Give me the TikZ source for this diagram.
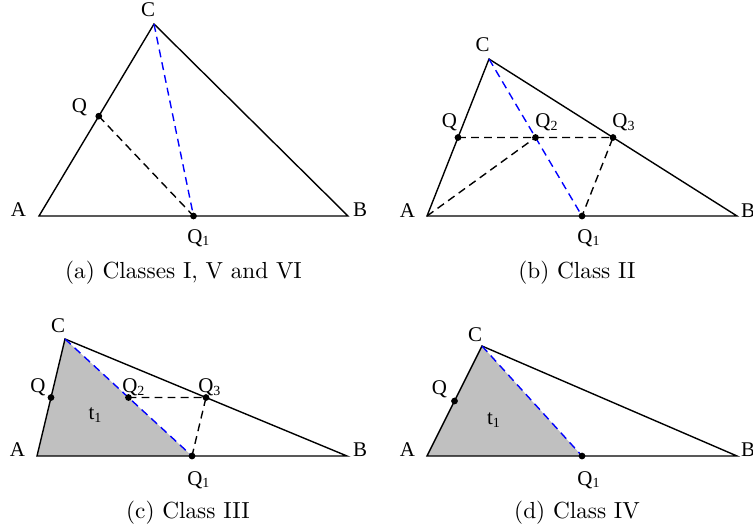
\documentclass[tikz,border=0pt]{standalone}
\usepackage{fontspec}
\newfontfamily\lblfont{Liberation Serif}
\usepackage{xcolor}
\usepackage{tikz}
\usetikzlibrary{calc}
\definecolor{tgrey}{HTML}{C0C0C0}
\definecolor{tblue}{HTML}{0000FF}

\begin{document}
\begin{tikzpicture}[x=0.43pt, y=0.43pt, line width=0.6pt,
  lbl/.style={font=\lblfont\fontsize{9}{10}\selectfont, inner sep=0pt},
  capt/.style={anchor=base, inner sep=0pt},
  blk/.style={dash pattern=on 3.4pt off 2.2pt},
  blu/.style={blk, draw=tblue}]

  \useasboundingbox (0,0) rectangle (753,529);

  % -- (a): one cut from Q, the median from C ------------------------------
  \coordinate (aA) at (39,313);
  \coordinate (aB) at (348,313);
  \coordinate (aC) at (154,505);
  \coordinate (aQ) at ($(aA)!0.52!(aC)$);
  \coordinate (aQ1) at ($(aA)!0.5!(aB)$);
  \draw (aA) -- (aB) -- (aC) -- cycle;
  \draw[blk] (aQ) -- (aQ1);
  \draw[blu] (aC) -- (aQ1);
  \foreach \p in {aQ,aQ1}{\fill (\p) circle (1.45pt);}
  \node[lbl] (laA)  at (18.5,319)  {A};
  \node[lbl] (laB)  at (360,319)   {B};
  \node[lbl] (laC)  at (148,519)   {C};
  \node[lbl] (laQ)  at (79.5,421.5) {Q};
  \node[lbl] (laQ1) at (199,291)   {Q\textsubscript{1}};
  \node[capt] (capa) at (183.5,251) {(a) Classes I, V and VI};

  % -- (b): the mid-points Q, Q2, Q3 joined up ------------------------------
  \coordinate (bA) at (427,313);
  \coordinate (bB) at (737,313);
  \coordinate (bC) at (489,470);
  \coordinate (bQ) at ($(bA)!0.5!(bC)$);
  \coordinate (bQ3) at ($(bB)!0.5!(bC)$);
  \coordinate (bQ1) at ($(bA)!0.5!(bB)$);
  \coordinate (bQ2) at ($(bC)!0.5!(bQ1)$);
  \draw (bA) -- (bB) -- (bC) -- cycle;
  \draw[blk] (bQ) -- (bQ2) -- (bQ3) -- (bQ1);
  \draw[blk] (bA) -- (bQ2);
  \draw[blu] (bC) -- (bQ1);
  \foreach \p in {bQ,bQ1,bQ2,bQ3}{\fill (\p) circle (1.45pt);}
  \node[lbl] (lbA)  at (407.5,318) {A};
  \node[lbl] (lbB)  at (748,318)   {B};
  \node[lbl] (lbC)  at (482.5,484.5) {C};
  \node[lbl] (lbQ)  at (449.5,406.5) {Q};
  \node[lbl] (lbQ2) at (547,406.5) {Q\textsubscript{2}};
  \node[lbl] (lbQ3) at (624,406.5) {Q\textsubscript{3}};
  \node[lbl] (lbQ1) at (589,291)   {Q\textsubscript{1}};
  \node[capt] (capb) at (577,251) {(b) Class II};

  % -- (c): t1 shaded, Q2 and Q3 still in play ------------------------------
  \coordinate (cA) at (37,73);
  \coordinate (cB) at (347,73);
  \coordinate (cC) at (65,190);
  \coordinate (cQ) at ($(cA)!0.5!(cC)$);
  \coordinate (cQ3) at ($(cB)!0.5!(cC)$);
  \coordinate (cQ1) at ($(cA)!0.5!(cB)$);
  \coordinate (cQ2) at ($(cC)!0.5!(cQ1)$);
  \fill[tgrey] (cA) -- (cQ1) -- (cC) -- cycle;
  \draw (cA) -- (cB) -- (cC) -- cycle;
  \draw[blk] (cQ2) -- (cQ3) -- (cQ1);
  \draw[blu] (cC) -- (cQ1);
  \foreach \p in {cQ,cQ1,cQ2,cQ3}{\fill (\p) circle (1.45pt);}
  \node[lbl] (lcA)  at (17.5,79)   {A};
  \node[lbl] (lcB)  at (360,79)    {B};
  \node[lbl] (lcC)  at (58,203)    {C};
  \node[lbl] (lcQ)  at (38,141.5)  {Q};
  \node[lbl] (lcQ2) at (134,141.5) {Q\textsubscript{2}};
  \node[lbl] (lcQ3) at (210,141.5) {Q\textsubscript{3}};
  \node[lbl] (lcQ1) at (199,49)    {Q\textsubscript{1}};
  \node[lbl] (lct)  at (95.5,114)  {t\textsubscript{1}};
  \node[capt] (capc) at (188,11) {(c) Class III};

  % -- (d): t1 shaded only ----------------------------------------------------
  \coordinate (dA) at (427,73);
  \coordinate (dB) at (737,73);
  \coordinate (dC) at (482,183);
  \coordinate (dQ) at ($(dA)!0.5!(dC)$);
  \coordinate (dQ1) at ($(dA)!0.5!(dB)$);
  \fill[tgrey] (dA) -- (dQ1) -- (dC) -- cycle;
  \draw (dA) -- (dB) -- (dC) -- cycle;
  \draw[blu] (dC) -- (dQ1);
  \foreach \p in {dQ,dQ1}{\fill (\p) circle (1.45pt);}
  \node[lbl] (ldA)  at (407.5,79)  {A};
  \node[lbl] (ldB)  at (748,79)    {B};
  \node[lbl] (ldC)  at (475,194)   {C};
  \node[lbl] (ldQ)  at (439.5,139.5) {Q};
  \node[lbl] (ldQ1) at (589,49)    {Q\textsubscript{1}};
  \node[lbl] (ldt)  at (494,109)   {t\textsubscript{1}};
  \node[capt] (capd) at (577,11) {(d) Class IV};

\end{tikzpicture}
\end{document}
